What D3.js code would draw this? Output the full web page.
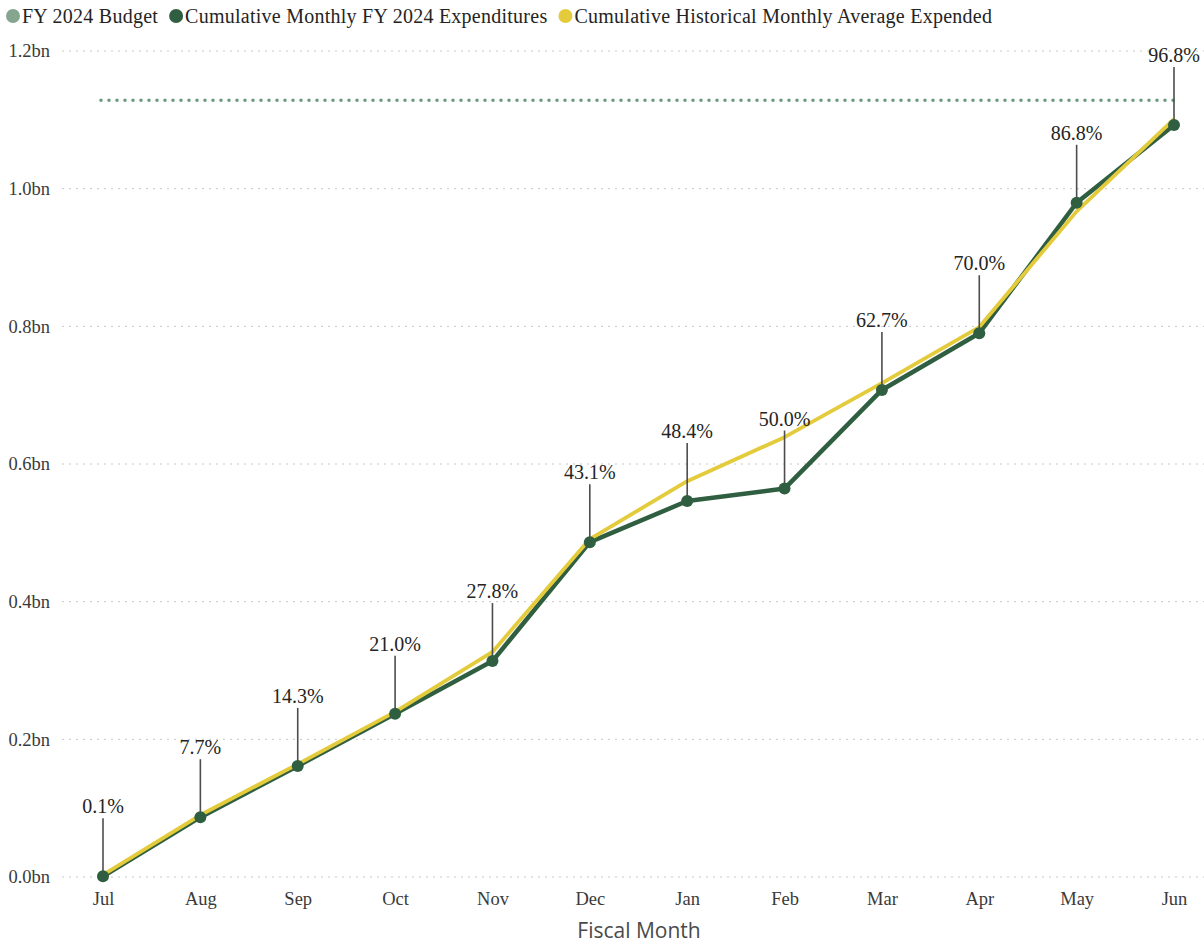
<!DOCTYPE html>
<html>
<head>
<meta charset="utf-8">
<script src="https://cdn.jsdelivr.net/npm/d3@7"></script>
<style>
  html, body { margin: 0; padding: 0; background: #ffffff; }
  svg { display: block; }
</style>
</head>
<body>
<svg id="chart" width="1204" height="944"></svg>
<script>
// Fiscal months of FY 2024
const months = ["Jul", "Aug", "Sep", "Oct", "Nov", "Dec", "Jan", "Feb", "Mar", "Apr", "May", "Jun"];

// FY 2024 budget (billions)
const budget = 1.1285;

// Cumulative monthly FY 2024 expenditures (billions)
const expenditures = [0.0011, 0.0869, 0.1614, 0.2370, 0.3137, 0.4864, 0.5462, 0.5643, 0.7076, 0.7900, 0.9795, 1.0924];

// Cumulative historical monthly average expended (billions)
const historical = [0.003, 0.090, 0.164, 0.240, 0.327, 0.491, 0.575, 0.639, 0.7175, 0.799, 0.967, 1.101];

// Y axis ticks (billions)
const yTicks = [0, 0.2, 0.4, 0.6, 0.8, 1.0, 1.2];

const legendItems = [
  { label: "FY 2024 Budget", color: "#86a58f" },
  { label: "Cumulative Monthly FY 2024 Expenditures", color: "#2f5e40" },
  { label: "Cumulative Historical Monthly Average Expended", color: "#e4cb3c" }
];

const serif = "'Liberation Serif', 'Times New Roman', serif";
const COLORS = { budget: "#6a9a7a", exp: "#2f5e40", hist: "#e4cb3c", grid: "#c8c8c8" };

const svg = d3.select("#chart");

const x = d3.scalePoint().domain(months).range([103, 1174]);
const y = d3.scaleLinear().domain([0, 1.2]).range([877, 51]);

// Gridlines
svg.append("g").selectAll("line")
  .data(yTicks)
  .join("line")
  .attr("x1", 62).attr("x2", 1204)
  .attr("y1", d => y(d)).attr("y2", d => y(d))
  .attr("stroke", COLORS.grid)
  .attr("stroke-width", 1)
  .attr("stroke-dasharray", "2 5");

// Y axis tick labels
const yAxis = d3.axisLeft(y).tickValues(yTicks).tickSize(0).tickPadding(0)
  .tickFormat(d => d3.format(".1f")(d) + "bn");
svg.append("g")
  .attr("transform", "translate(50,0)")
  .call(yAxis)
  .call(g => g.select(".domain").remove())
  .call(g => g.selectAll("text")
    .attr("font-family", serif)
    .attr("font-size", 18.5)
    .attr("fill", "#3a3a3a"));

// X axis tick labels
const xAxis = d3.axisBottom(x).tickSize(0).tickPadding(0);
svg.append("g")
  .attr("transform", "translate(0,892)")
  .call(xAxis)
  .call(g => g.select(".domain").remove())
  .call(g => g.selectAll("text")
    .attr("font-family", serif)
    .attr("font-size", 18.5)
    .attr("fill", "#3a3a3a"));

// X axis title
svg.append("text")
  .attr("x", 639).attr("y", 938)
  .attr("text-anchor", "middle")
  .attr("font-family", "'Open Sans', 'Noto Sans', sans-serif")
  .attr("font-size", 21)
  .attr("fill", "#4a4a4a")
  .text("Fiscal Month");

// Budget reference line
svg.append("line")
  .attr("x1", x(months[0]) - 2).attr("x2", x(months[months.length - 1]))
  .attr("y1", y(budget)).attr("y2", y(budget))
  .attr("stroke", COLORS.budget)
  .attr("stroke-width", 3.5)
  .attr("stroke-linecap", "round")
  .attr("stroke-dasharray", "0 8");

const line = d3.line().x((d, i) => x(months[i])).y(d => y(d));

// Expenditure line
svg.append("path")
  .datum(expenditures)
  .attr("d", line)
  .attr("fill", "none")
  .attr("stroke", COLORS.exp)
  .attr("stroke-width", 4.5)
  .attr("stroke-linejoin", "round");

// Historical average line
svg.append("path")
  .datum(historical)
  .attr("d", line)
  .attr("fill", "none")
  .attr("stroke", COLORS.hist)
  .attr("stroke-width", 3.8)
  .attr("stroke-linejoin", "round");

// Data label stems and labels (percent of budget)
const stemLen = 58;
const labels = svg.append("g");
labels.selectAll("line")
  .data(expenditures)
  .join("line")
  .attr("x1", (d, i) => x(months[i])).attr("x2", (d, i) => x(months[i]))
  .attr("y1", d => y(d)).attr("y2", d => y(d) - stemLen)
  .attr("stroke", "#4d4d4d")
  .attr("stroke-width", 1.6);

// Expenditure markers
svg.append("g").selectAll("circle")
  .data(expenditures)
  .join("circle")
  .attr("cx", (d, i) => x(months[i]))
  .attr("cy", d => y(d))
  .attr("r", 6)
  .attr("fill", COLORS.exp);

labels.selectAll("text")
  .data(expenditures)
  .join("text")
  .attr("x", (d, i) => x(months[i]))
  .attr("y", d => y(d) - stemLen - 5)
  .attr("text-anchor", "middle")
  .attr("font-family", serif)
  .attr("font-size", 20)
  .attr("fill", "#252423")
  .text(d => d3.format(".1%")(d / budget));

// Legend
const legend = svg.append("g");
let lx = 6;
legendItems.forEach(item => {
  legend.append("circle")
    .attr("cx", lx + 7).attr("cy", 16).attr("r", 7)
    .attr("fill", item.color);
  const t = legend.append("text")
    .attr("x", lx + 16).attr("y", 22.5)
    .attr("font-family", serif)
    .attr("font-size", 20)
    .attr("letter-spacing", 0.25)
    .attr("fill", "#252423")
    .text(item.label);
  lx += 16 + t.node().getComputedTextLength() + 11;
});
</script>
</body>
</html>
